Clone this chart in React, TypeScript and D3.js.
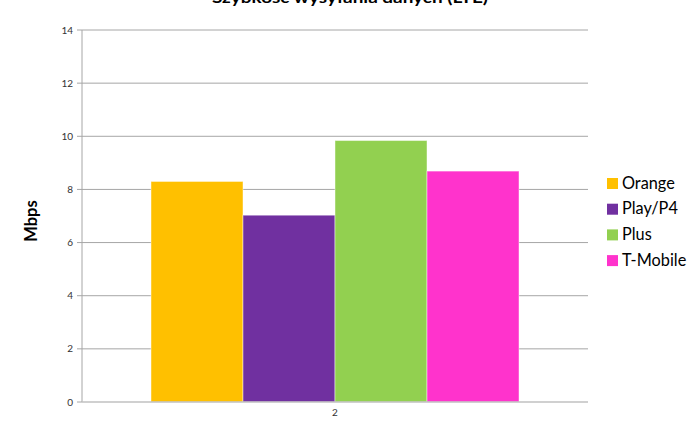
import React from "react";
import * as d3 from "d3";

const title = "Szybkość wysyłania danych (LTE)";
const yAxisTitle = "Mbps";
const categories = ["2"];
const seriesNames = ["Orange", "Play/P4", "Plus", "T-Mobile"];
const seriesValues = [8.3, 7.03, 9.84, 8.69];
const seriesColors = ["#FFC000", "#7030A0", "#92D050", "#FF33CC"];
const yTicks = [0, 2, 4, 6, 8, 10, 12, 14];

const W = 700;
const H = 441;
const M = { left: 82, right: 588, top: 30, bottom: 402 };
const FONT = "Lato, 'Open Sans', sans-serif";

export default function App() {
  const y = d3.scaleLinear().domain([0, 14]).range([M.bottom, M.top]);
  const x0 = d3
    .scaleBand<string>()
    .domain(categories)
    .range([M.left, M.right])
    .paddingInner(0)
    .paddingOuter(0.1875);
  const x1 = d3
    .scaleBand<string>()
    .domain(seriesNames)
    .range([0, x0.bandwidth()])
    .padding(0);

  return (
    <svg
      width={W}
      height={H}
      style={{ position: "absolute", left: 0, top: 0, background: "#fff" }}
    >
      <text
        x={350}
        y={3}
        textAnchor="middle"
        fontFamily={FONT}
        fontWeight="bold"
        fontSize={16}
        fill="#000"
        textLength={276}
        lengthAdjust="spacingAndGlyphs"
      >
        {title}
      </text>
      {yTicks.map((t) => (
        <g key={t}>
          {t !== 0 && (
            <line
              x1={M.left}
              x2={M.right}
              y1={y(t)}
              y2={y(t)}
              stroke="#a6a6a6"
              strokeWidth={1}
            />
          )}
          <line
            x1={M.left - 5}
            x2={M.left}
            y1={y(t)}
            y2={y(t)}
            stroke="#a6a6a6"
            strokeWidth={1}
          />
          <text
            x={M.left - 9}
            y={y(t)}
            dy="0.35em"
            textAnchor="end"
            fontFamily={FONT}
            fontSize={10}
            fill="#333"
          >
            {t}
          </text>
        </g>
      ))}
      {categories.map((c) => (
        <g key={c} transform={`translate(${x0(c)},0)`}>
          {seriesNames.map((s, i) => (
            <rect
              key={s}
              x={x1(s)!}
              y={y(seriesValues[i])}
              width={x1.bandwidth()}
              height={y(0) - y(seriesValues[i])}
              fill={seriesColors[i]}
              stroke="rgba(255,255,255,0.45)"
              strokeWidth={1}
            />
          ))}
          <text
            x={x0.bandwidth() / 2}
            y={M.bottom + 14}
            textAnchor="middle"
            fontFamily={FONT}
            fontSize={10}
            fill="#333"
          >
            {c}
          </text>
        </g>
      ))}
      <line x1={M.left} x2={M.left} y1={M.top} y2={M.bottom} stroke="#a6a6a6" />
      <line x1={M.left} x2={M.right} y1={M.bottom} y2={M.bottom} stroke="#c0c0c0" strokeWidth={1.5} />
      <text
        transform={`translate(37,${(M.top + M.bottom) / 2 + 5}) rotate(-90)`}
        textAnchor="middle"
        fontFamily={FONT}
        fontWeight="bold"
        fontSize={16.5}
        fill="#000"
      >
        {yAxisTitle}
      </text>
      {seriesNames.map((s, i) => (
        <g key={s} transform={`translate(607,${183 + i * 25.7})`}>
          <rect x={0} y={-5} width={11} height={11} fill={seriesColors[i]} />
          <text x={15} y={0} dy="0.35em" fontFamily={FONT} fontSize={16.3} fill="#000">
            {s}
          </text>
        </g>
      ))}
    </svg>
  );
}
